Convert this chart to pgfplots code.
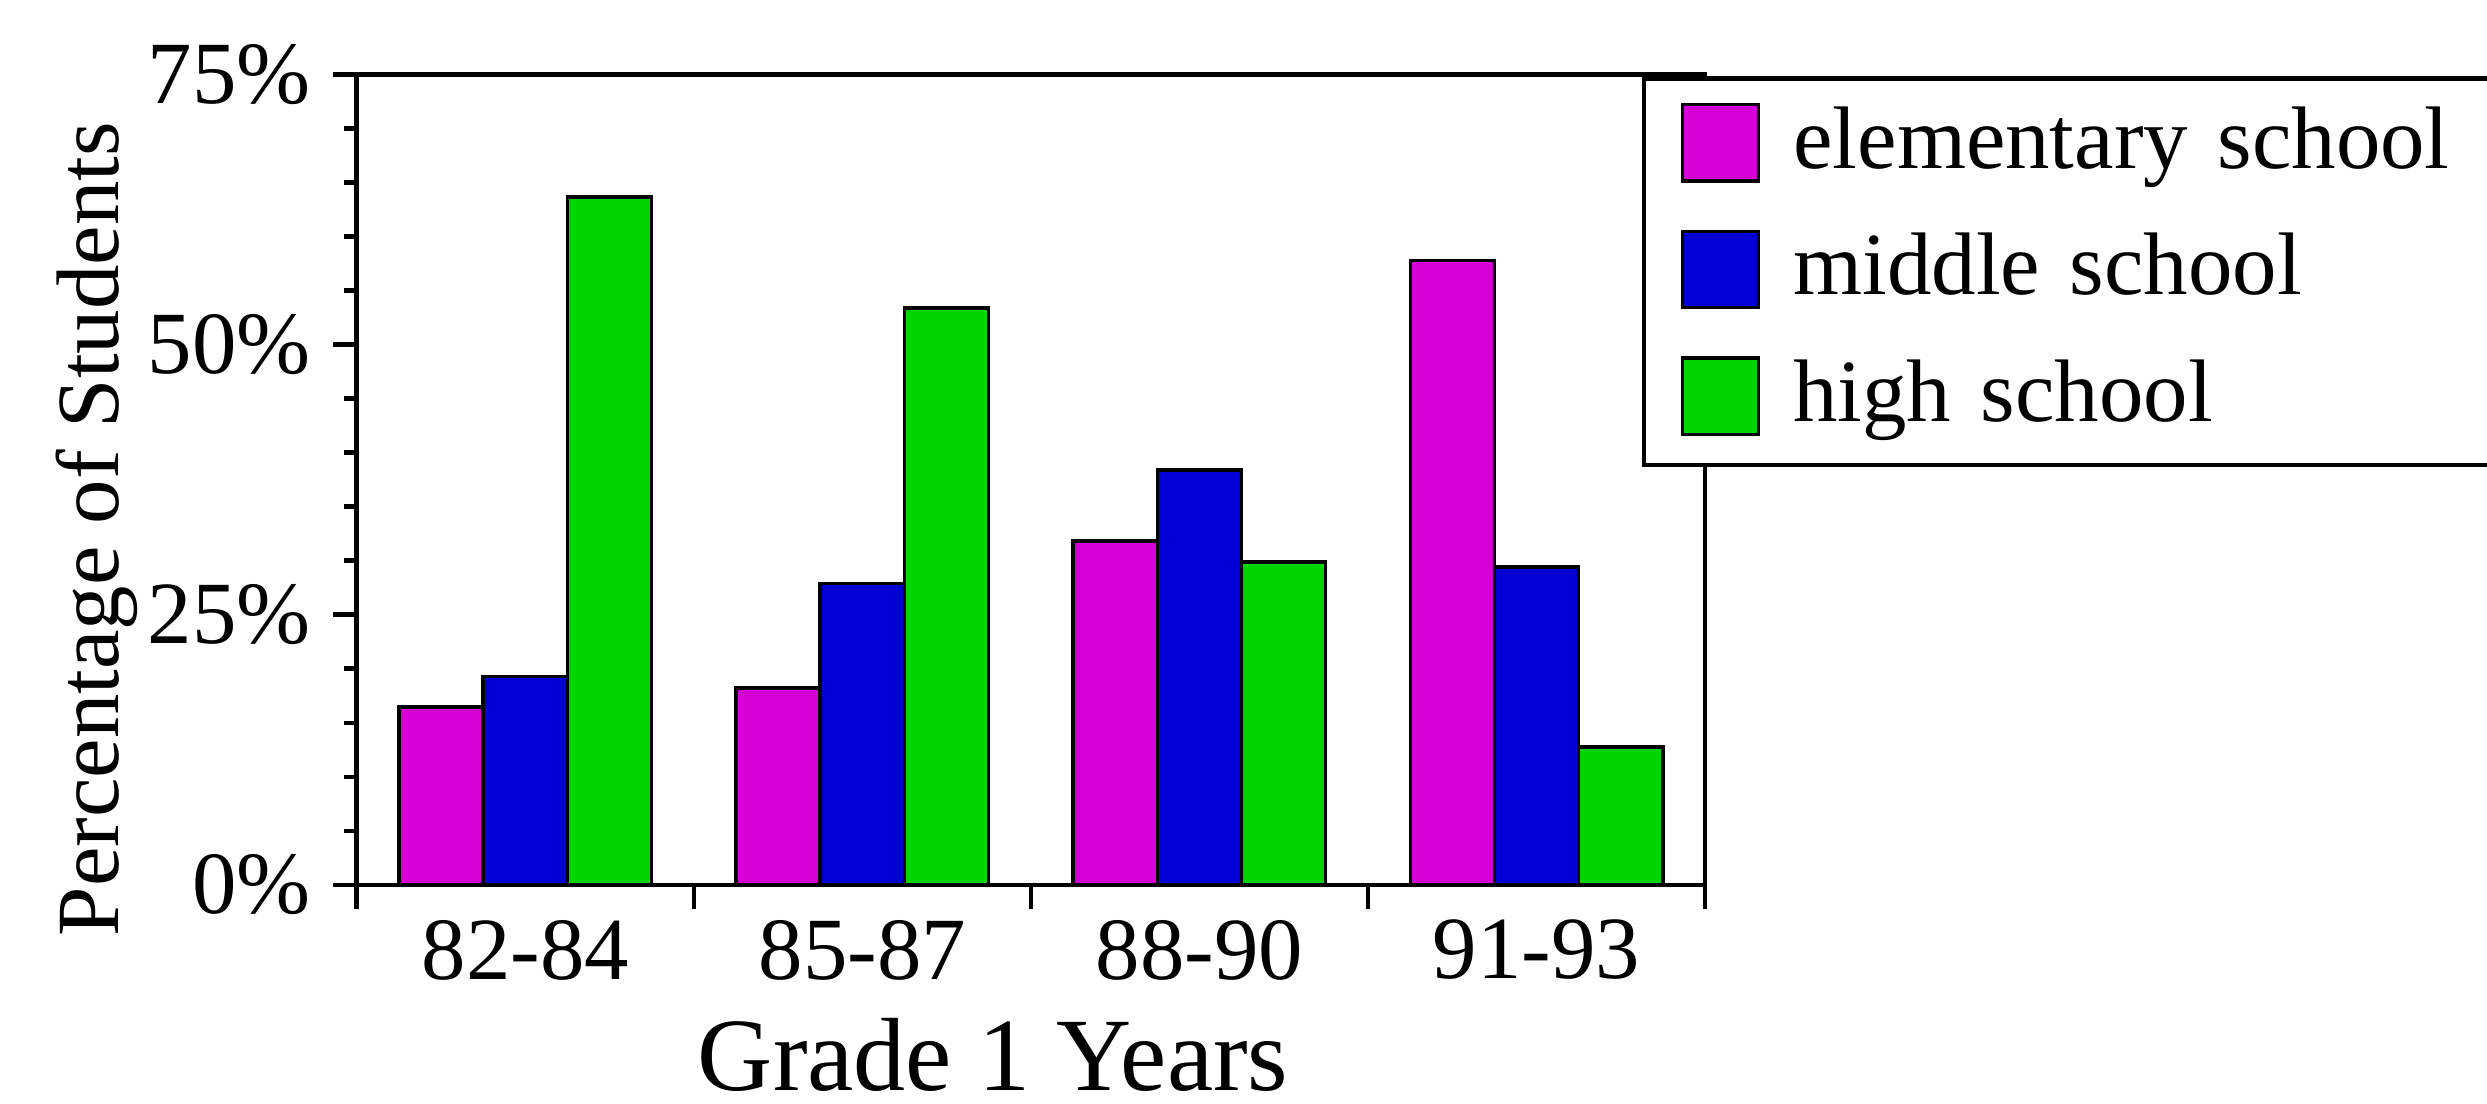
\documentclass[border=0pt]{standalone}
\usepackage{pgfplots}
\pgfplotsset{compat=1.18}
\usepackage{fontspec}
\setmainfont{Liberation Serif}

\definecolor{elem}{RGB}{212,0,212}
\definecolor{midd}{RGB}{0,0,212}
\definecolor{high}{RGB}{0,212,0}

\begin{document}
\begin{tikzpicture}
\begin{axis}[
  name=ax,
  width=212.5pt, height=127.75pt, scale only axis,
  ybar=0pt, bar width=13.25pt,
  xmin=-0.5, xmax=3.5, ymin=0, ymax=75,
  xtick={-0.5,0.5,1.5,2.5,3.5}, xticklabels={},
  extra x ticks={0,1,2,3},
  extra x tick labels={82-84,85-87,88-90,91-93},
  extra x tick style={major tick length=0pt, tick label style={yshift=-2pt}},
  ytick={0,25,50,75}, yticklabels={0\%,25\%,50\%,75\%},
  minor y tick num=4,
  tick align=outside, tick pos=left,
  major tick length=3.75pt, minor tick length=2pt,
  axis line style={line width=0.75pt},
  every tick/.style={black, line width=0.75pt},
  tick label style={font=\fontsize{14}{16}\selectfont},
  xlabel={Grade 1 Years},
  xlabel style={at={(axis description cs:0.472,-0.254)}, anchor=base, font=\fontsize{16.4}{19}\selectfont},
  ylabel={Percentage of Students},
  ylabel style={at={(axis description cs:-0.1765,0.439)}, anchor=base, font=\fontsize{14}{16}\selectfont},
  legend cell align=left,
  legend image code/.code={\draw[#1, line width=0.6pt] (0pt,-5.5pt) rectangle (12pt,6.5pt);},
  legend style={at={(axis description cs:0.953,0.998)}, anchor=north west,
    draw=black, line width=0.75pt, fill=white,
    inner xsep=5.75pt, inner ysep=3.8pt, row sep=6.7pt, column sep=5.2pt,
    font=\fontsize{14}{16}\selectfont,
    nodes={inner sep=0pt, text height=10pt, text depth=3pt, text width=115pt}},
]
\addplot[fill=elem, draw=black, line width=0.6pt] coordinates {(0,16.5) (1,18.2) (2,31.8) (3,57.8)};
\addplot[fill=midd, draw=black, line width=0.6pt] coordinates {(0,19.3) (1,27.9) (2,38.4) (3,29.4)};
\addplot[fill=high, draw=black, line width=0.6pt] coordinates {(0,63.7) (1,53.4) (2,29.9) (3,12.8)};
\legend{elementary school, middle school, high school}
\end{axis}
\pgfresetboundingbox
\path[use as bounding box] ([xshift=-56.25pt,yshift=-34.5pt]ax.south west) rectangle ([xshift=123.25pt,yshift=11.75pt]ax.north east);
\end{tikzpicture}
\end{document}
